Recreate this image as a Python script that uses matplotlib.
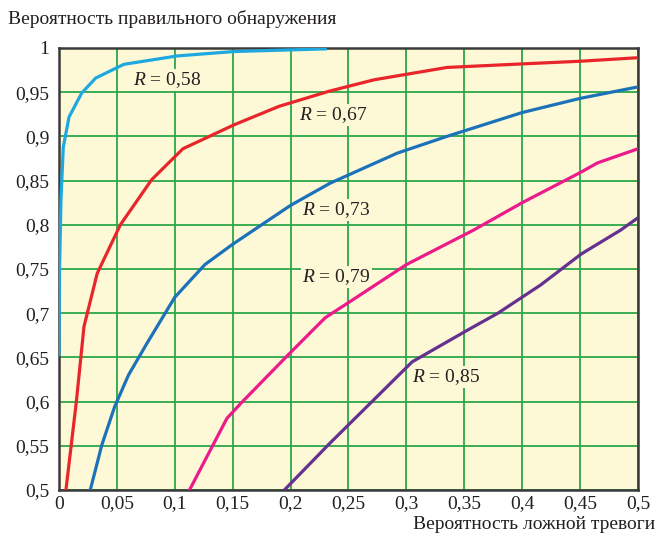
import matplotlib
matplotlib.use("Agg")
import matplotlib.pyplot as plt

plt.rcParams['font.family'] = ['Liberation Serif', 'DejaVu Serif']
plt.rcParams['mathtext.fontset'] = 'custom'
plt.rcParams['mathtext.rm'] = 'Liberation Serif'
plt.rcParams['mathtext.it'] = 'Liberation Serif:italic'

# данные кривых (R = 0,58 ... 0,85)
x058 = [0, 0.0005, 0.0017, 0.0037, 0.0087, 0.0196, 0.0317, 0.056, 0.102, 0.151, 0.23]
y058 = [0.653, 0.75, 0.828, 0.888, 0.922, 0.949, 0.966, 0.9815, 0.991, 0.996, 0.999]

x067 = [0.006, 0.015, 0.0216, 0.033, 0.053, 0.08, 0.107, 0.151, 0.19, 0.233, 0.272, 0.335, 0.40, 0.45, 0.5]
y067 = [0.5, 0.6, 0.685, 0.745, 0.80, 0.851, 0.886, 0.913, 0.934, 0.951, 0.964, 0.978, 0.982, 0.985, 0.989]

x073 = [0.027, 0.037, 0.048, 0.06, 0.076, 0.1, 0.126, 0.15, 0.2, 0.234, 0.292, 0.335, 0.40, 0.45, 0.5]
y073 = [0.5, 0.551, 0.594, 0.63, 0.666, 0.718, 0.755, 0.778, 0.822, 0.847, 0.881, 0.900, 0.927, 0.943, 0.956]

x079 = [0.1127, 0.145, 0.157, 0.198, 0.23, 0.25, 0.3, 0.358, 0.40, 0.45, 0.465, 0.5]
y079 = [0.5, 0.581, 0.598, 0.653, 0.695, 0.712, 0.755, 0.794, 0.825, 0.859, 0.870, 0.886]

x085 = [0.1946, 0.234, 0.305, 0.353, 0.379, 0.416, 0.451, 0.485, 0.5]
y085 = [0.5, 0.553, 0.645, 0.681, 0.700, 0.732, 0.767, 0.794, 0.808]

labels = ['0,58', '0,67', '0,73', '0,79', '0,85']
label_pos = [(0.064, 0.964), (0.207, 0.924), (0.21, 0.817), (0.21, 0.741), (0.305, 0.628)]

xticks = [0, 0.05, 0.1, 0.15, 0.2, 0.25, 0.3, 0.35, 0.4, 0.45, 0.5]
xticklabels = ['0', '0,05', '0,1', '0,15', '0,2', '0,25', '0,3', '0,35', '0,4', '0,45', '0,5']
yticks = [0.5, 0.55, 0.6, 0.65, 0.7, 0.75, 0.8, 0.85, 0.9, 0.95, 1]
yticklabels = ['0,5', '0,55', '0,6', '0,65', '0,7', '0,75', '0,8', '0,85', '0,9', '0,95', '1']

bg = '#fdf8d6'
colors = ['#1ea8e0', '#e8262a', '#1b72b8', '#ec1a8a', '#66308f']

fig = plt.figure(figsize=(6.65, 5.35), dpi=100)
ax = fig.add_axes([0.0887, 0.0841, 0.8707, 0.8262])
ax.set_facecolor(bg)

series = [(x058, y058), (x067, y067), (x073, y073), (x079, y079), (x085, y085)]
for (xs, ys), c in zip(series, colors):
    ax.plot(xs, ys, color=c, lw=2.3, solid_joinstyle='miter', zorder=3)

ax.set_xlim(0, 0.5)
ax.set_ylim(0.5, 1)
ax.set_xticks(xticks)
ax.set_xticklabels(xticklabels)
ax.set_yticks(yticks)
ax.set_yticklabels(yticklabels)
ax.tick_params(length=0, labelsize=14, colors='#231f20')
ax.tick_params(axis='x', pad=4)
ax.tick_params(axis='y', pad=7)
ax.grid(True, color='#2aa84a', lw=1.3, zorder=1)
ax.set_axisbelow(True)
for s in ax.spines.values():
    s.set_color('#3a3a3a')
    s.set_linewidth(1.8)

for lab, (lx, ly) in zip(labels, label_pos):
    ax.text(lx, ly, '$R$ = ' + lab, fontsize=14, color='#231f20', va='center', ha='left',
            bbox=dict(facecolor=bg, edgecolor='none', pad=1), zorder=2)

fig.text(0.012, 0.965, 'Вероятность правильного обнаружения', fontsize=14, color='#231f20', va='center')
fig.text(0.985, 0.004, 'Вероятность ложной тревоги', fontsize=14, color='#231f20', ha='right', va='bottom')

fig.savefig('out.png', dpi=100)
